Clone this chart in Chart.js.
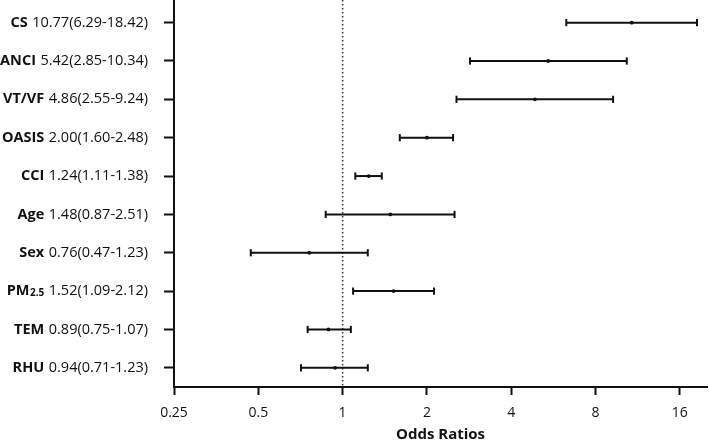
<!DOCTYPE html>
<html><head><meta charset="utf-8">
<script src="https://cdn.jsdelivr.net/npm/chart.js@4"></script>
<style>html,body{margin:0;padding:0;background:#fff}#wrap{width:709px;height:440px;position:relative}</style>
</head><body><div id="wrap"><canvas id="c"></canvas></div>
<script>
const factors = ['CS','ANCI','VT/VF','OASIS','CCI','Age','Sex','PM','TEM','RHU'];
const factorSubs = ['','','','','','','','2.5','',''];
const oddsRatios = [10.77,5.42,4.86,2.00,1.24,1.48,0.76,1.52,0.89,0.94];
const ciLower = [6.29,2.85,2.55,1.60,1.11,0.87,0.47,1.09,0.75,0.71];
const ciUpper = [18.42,10.34,9.24,2.48,1.38,2.51,1.23,2.12,1.07,1.23];
const xTicks = [0.25,0.5,1,2,4,8,16];
const xTitle = 'Odds Ratios';
const refValue = 1;

const INK = '#111';
const FONT = 'Open Sans';
const yMin = -0.59, yMax = 9.5;

const datasets = [];
factors.forEach((f, i) => {
  datasets.push({
    type: 'line',
    data: [{x: ciLower[i], y: i}, {x: ciUpper[i], y: i}],
    borderColor: INK, borderWidth: 2, fill: false,
    pointStyle: 'line', pointRotation: 90, pointRadius: 3.6,
    pointBorderWidth: 2, pointBorderColor: INK, pointBackgroundColor: INK
  });
});
datasets.push({
  type: 'scatter',
  data: oddsRatios.map((v, i) => ({x: v, y: i})),
  pointRadius: 1.9, backgroundColor: INK, borderColor: INK, borderWidth: 0
});
datasets.push({
  type: 'line',
  data: [{x: refValue, y: yMin}, {x: refValue, y: yMax}],
  borderColor: '#333', borderWidth: 1.5, borderDash: [1.5, 2.5], pointRadius: 0, fill: false
});

const labelPlugin = {
  id: 'rowLabels',
  afterDraw(chart) {
    const ctx = chart.ctx;
    const ys = chart.scales.y;
    const right = 148;
    ctx.save();
    ctx.fillStyle = INK;
    ctx.textBaseline = 'middle';
    factors.forEach((f, i) => {
      const y = ys.getPixelForValue(i);
      const txt = oddsRatios[i].toFixed(2) + '(' + ciLower[i].toFixed(2) + '-' + ciUpper[i].toFixed(2) + ')';
      ctx.font = '14.5px "' + FONT + '"';
      ctx.textAlign = 'right';
      ctx.fillText(txt, right, y);
      let x = right - ctx.measureText(txt).width - 4.5;
      if (factorSubs[i]) {
        ctx.font = 'bold 10px "' + FONT + '"';
        ctx.fillText(factorSubs[i], x, y + 1.8);
        x -= ctx.measureText(factorSubs[i]).width + 0.5;
      }
      ctx.font = 'bold 14.5px "' + FONT + '"';
      ctx.fillText(f, x, y);
    });
    ctx.restore();
  }
};

new Chart(document.getElementById('c'), {
  type: 'scatter',
  data: {datasets},
  plugins: [labelPlugin],
  options: {
    responsive: true, maintainAspectRatio: false, animation: false,
    layout: {autoPadding: false, padding: {left: 0, right: 2, top: 0, bottom: 0}},
    plugins: {legend: {display: false}, tooltip: {enabled: false}},
    scales: {
      x: {
        type: 'logarithmic', min: xTicks[0], max: 20,
        afterBuildTicks: s => { s.ticks = xTicks.map(v => ({value: v})); },
        ticks: {callback: v => String(v), autoSkip: false, maxRotation: 0,
                font: {family: FONT, size: 14}, color: INK, padding: 9.5},
        grid: {drawOnChartArea: false, drawTicks: true, tickLength: 8, tickWidth: 2, tickColor: INK},
        border: {display: true, width: 2, color: INK},
        title: {display: true, text: xTitle, color: INK,
                font: {family: FONT, size: 15, weight: 'bold', lineHeight: 1.0}, padding: {top: 0, bottom: -2}},
        afterFit: s => { s.height = 53; }
      },
      y: {
        type: 'linear', reverse: true, min: yMin, max: yMax,
        afterBuildTicks: s => { s.ticks = factors.map((_, i) => ({value: i})); },
        ticks: {display: false},
        grid: {drawOnChartArea: false, drawTicks: true, tickLength: 10, tickWidth: 2, tickColor: INK},
        border: {display: true, width: 2, color: INK},
        afterFit: s => { s.width = 174; }
      }
    }
  }
});
</script></body></html>
